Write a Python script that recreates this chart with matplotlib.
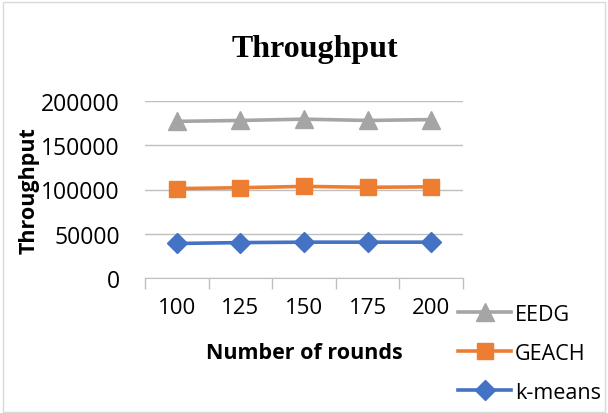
import matplotlib
matplotlib.use("Agg")
import matplotlib.pyplot as plt
from matplotlib.patches import Rectangle

categories = ["100", "125", "150", "175", "200"]
eedg = [177000, 178000, 179500, 178000, 179000]
geach = [101000, 102000, 103500, 102500, 103000]
kmeans = [39000, 40000, 40500, 40500, 40500]
yticks = [0, 50000, 100000, 150000, 200000]

plt.rcParams['font.family'] = ['Open Sans', 'DejaVu Sans']
fig = plt.figure(figsize=(6.08, 4.14), dpi=100)
ax = fig.add_axes([145/608, 1-279/414, 318/608, 177/414])

x = list(range(len(categories)))
ax.plot(x, eedg, color="#A5A5A5", lw=2.6, marker="^", ms=13, label="EEDG")
ax.plot(x, geach, color="#ED7D31", lw=2.6, marker="s", ms=12, label="GEACH")
ax.plot(x, kmeans, color="#4472C4", lw=2.6, marker="D", ms=10, label="k-means")

ax.set_xlim(-0.5, len(categories) - 0.5)
ax.set_ylim(0, 200000)
ax.set_yticks(yticks)
ax.set_yticklabels([str(v) for v in yticks], fontsize=16.5)
ax.yaxis.grid(True, color="#BFBFBF", lw=1)
ax.set_axisbelow(True)
ax.tick_params(axis="y", length=0, pad=18)

ax.set_xticks([i - 0.5 for i in range(len(categories) + 1)], minor=False)
ax.set_xticklabels([])
ax.set_xticks(x, minor=True)
ax.set_xticklabels(categories, minor=True, fontsize=16)
ax.tick_params(axis="x", which="major", length=8, color="#BFBFBF", width=1)
ax.tick_params(axis="x", which="minor", length=0, pad=14)

for s in ["left", "right", "top"]:
    ax.spines[s].set_visible(False)
ax.spines["bottom"].set_color("#BFBFBF")

ax.set_xlabel("Number of rounds", fontsize=15.5, fontweight="bold", labelpad=17)
ax.set_ylabel("Throughput", fontsize=15.5, fontweight="bold")
ax.yaxis.set_label_coords(-0.33, 0.5)

fig.text(0.518, 1-49/414, "Throughput", ha="center", va="center",
         fontsize=23, fontweight="bold", family="Liberation Serif")

leg = fig.legend(loc="upper left", bbox_to_anchor=(449/608, 1-296/414),
                 frameon=False, fontsize=15.5, handlelength=2.5,
                 labelspacing=0.84, handletextpad=0.15, borderaxespad=0)

fig.patches.append(Rectangle((3/608, 1/414), 1-6/608, 1-4/414, transform=fig.transFigure,
                             fill=False, edgecolor="#D9D9D9", lw=1))

fig.savefig("out.png", dpi=100)
